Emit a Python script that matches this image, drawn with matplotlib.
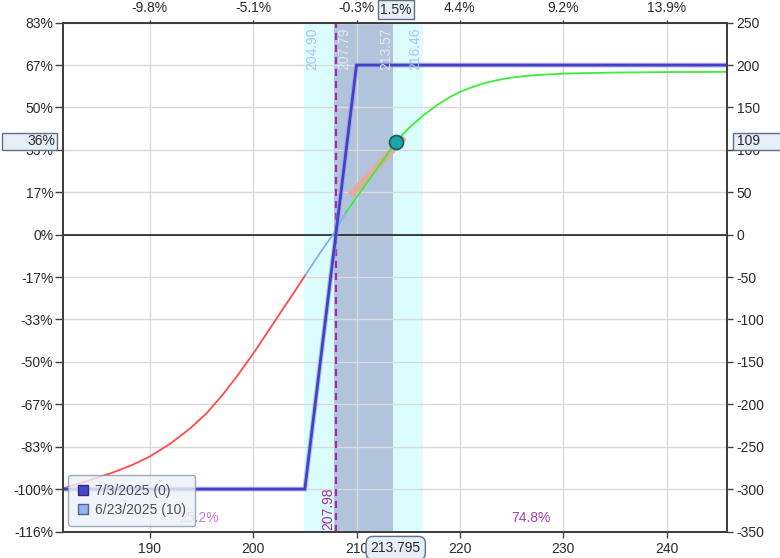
import matplotlib
matplotlib.use('Agg')
import matplotlib.pyplot as plt
import matplotlib.transforms as mtransforms
from matplotlib.patches import Rectangle
from matplotlib.lines import Line2D

plt.rcParams['font.family'] = ['Liberation Sans', 'DejaVu Sans']
plt.rcParams['font.size'] = 10

# ── data ─────────────────────────────────────────────────────────────────────
X_MIN, X_MAX = 181.6, 245.85
Y_MIN, Y_MAX = -350, 250

EXPIRY_X = [181.6, 205.0, 210.0, 245.85]          # 7/3/2025 (0)
EXPIRY_Y = [-300, -300, 200, 200]

# 6/23/2025 (10) curve, split by colour
T0_RED_X = [181.6, 182.14, 184.24, 186.49, 188.3, 189.97, 191.97, 193.9, 195.5,
            197.13, 198.4, 200.03, 201.32, 202.6, 203.9, 205.06]
T0_RED_Y = [-299, -297.2, -289.3, -280.2, -271.5, -261.8, -246.5, -228.5, -210.6,
            -187.5, -167.5, -139.9, -116.3, -92.7, -69.1, -47.5]
T0_BLUE_X = [205.06, 206.5, 207.8, 209.02]
T0_BLUE_Y = [-47.5, -21, 1.6, 27]
T0_GREEN_X = [209.02, 210, 211, 212, 213, 213.76, 214.5, 215.21, 216.5, 217.8,
              219.0, 220.05, 221.2, 222.3, 223.6, 224.88, 226.2, 227.47, 230.04,
              232.6, 235.0, 240.0, 245.85]
T0_GREEN_Y = [27, 44, 61, 78, 95, 108.5, 118.5, 127.4, 141, 153,
              162, 168.6, 174, 178.5, 182.2, 185.1, 187, 188.3, 189.9,
              190.7, 191.2, 191.8, 192]

HILITE_X = [209.41, 214.63]
HILITE_Y = [46.6, 114.9]

BAND_OUTER = (204.90, 216.46)
BAND_INNER = (207.79, 213.57)
BREAKEVEN = 207.98
SPOT, SPOT_PNL = 213.795, 109
SPOT_PCT, SPOT_PNL_PCT = "1.5%", "36%"
PROB_LEFT, PROB_RIGHT = "25.2%", "74.8%"

X_TICKS = [190, 200, 210, 220, 230, 240]
TOP_LABELS = ['-9.8%', '-5.1%', '-0.3%', '4.4%', '9.2%', '13.9%']
Y_TICKS = list(range(-350, 251, 50))
LEFT_LABELS = ['-116%', '-100%', '-83%', '-67%', '-50%', '-33%', '-17%',
               '0%', '17%', '33%', '50%', '67%', '83%']

LEGEND_LABELS = ['7/3/2025 (0)', '6/23/2025 (10)']

# ── figure ───────────────────────────────────────────────────────────────────
W, H = 780, 558
fig = plt.figure(figsize=(W / 100, H / 100), dpi=100)
ax = fig.add_axes([63 / W, 1 - 531.5 / H, 664 / W, 508.8 / H])
ax.set_xlim(X_MIN, X_MAX)
ax.set_ylim(Y_MIN, Y_MAX)

TXT = '#2a2a2a'
SPINE = '#404040'
BOXFC, BOXEC = '#e6eef8', '#607080'
FS = 10

# bands
ax.axvspan(*BAND_OUTER, color='#dcfdfd', zorder=0.5, lw=0)
ax.axvspan(*BAND_INNER, color='#b2c3dc', zorder=0.6, lw=0)

ax.set_axisbelow('line')
ax.grid(True, color='#dadada', lw=1.0)
ax.axhline(0, color='#111111', lw=1.1, zorder=1.8)

# breakeven
ax.axvline(BREAKEVEN, color='#a030a0', lw=1.6, ls=(0, (3.2, 2.2)), zorder=2.2)

# T+0 curve
ax.plot(HILITE_X, HILITE_Y, color='#e9a996', lw=4.8, solid_capstyle='butt',
        alpha=0.9, zorder=2.0)
ax.plot(T0_RED_X, T0_RED_Y, color='#ff4a4a', lw=1.3, zorder=2.1)
ax.plot(T0_BLUE_X, T0_BLUE_Y, color='#86acf2', lw=1.3, zorder=2.1)
ax.plot(T0_GREEN_X, T0_GREEN_Y, color='#3cee3c', lw=1.3, zorder=2.1)

# expiry line
ax.plot(EXPIRY_X, EXPIRY_Y, color='#9a9ae6', lw=3.6, alpha=0.6, zorder=2.3,
        solid_joinstyle='miter')
ax.plot(EXPIRY_X, EXPIRY_Y, color='#4242c8', lw=2.0, zorder=2.4,
        solid_joinstyle='miter')

ax.plot([SPOT], [SPOT_PNL], 'o', ms=10, mfc='#1fa6a6', mec='#1d5c62',
        mew=1.3, zorder=3)

# band edge labels
def band_label(x, txt, ha, dx, color):
    ax.annotate(txt, xy=(x, 1), xycoords=('data', 'axes fraction'),
                xytext=(dx, -3.5), textcoords='offset points', rotation=90,
                ha=ha, va='top', color=color, fontsize=FS, zorder=2.5)

band_label(BAND_OUTER[0], f"{BAND_OUTER[0]:.2f}", 'left', 1.0, '#b2c6e2')
band_label(BAND_INNER[0], f"{BAND_INNER[0]:.2f}", 'left', 2.8, '#dfe7f3')
band_label(BAND_INNER[1], f"{BAND_INNER[1]:.2f}", 'right', 0.0, '#dfe7f3')
band_label(BAND_OUTER[1], f"{BAND_OUTER[1]:.2f}", 'right', -1.0, '#b2c6e2')

ax.annotate(f"{BREAKEVEN:.2f}", xy=(BREAKEVEN, 0), xycoords=('data', 'axes fraction'),
            xytext=(-0.5, 1), textcoords='offset points', rotation=90,
            ha='right', va='bottom', color='#a030a0', fontsize=FS, zorder=2.5)

ax.text(194.8, -333.5, PROB_LEFT, ha='center', va='center', color='#c67ad2',
        fontsize=FS, zorder=2.5)
ax.text(226.9, -333.5, PROB_RIGHT, ha='center', va='center', color='#a540b5',
        fontsize=FS, zorder=2.5)

# axes, ticks
ax.set_xticks(X_TICKS)
ax.set_yticks(Y_TICKS)
ax.set_yticklabels(LEFT_LABELS)
ax.tick_params(axis='x', direction='out', length=4, width=1, pad=3.5,
               colors=SPINE, labelcolor=TXT, labelsize=FS)
ax.tick_params(axis='y', direction='out', length=5.5, width=1, pad=1.5,
               colors=SPINE, labelcolor=TXT, labelsize=FS)
for s in ax.spines.values():
    s.set_color(SPINE)
    s.set_linewidth(1.2)

ax_r = ax.twinx()
ax_r.set_ylim(Y_MIN, Y_MAX)
ax_r.set_yticks(Y_TICKS)
ax_r.set_yticklabels([str(v) for v in Y_TICKS])
ax_r.tick_params(axis='y', direction='out', length=4.5, width=1, pad=2.5,
                 colors=SPINE, labelcolor=TXT, labelsize=FS)

ax_t = ax.twiny()
ax_t.set_xlim(X_MIN, X_MAX)
ax_t.set_xticks(X_TICKS)
ax_t.set_xticklabels(TOP_LABELS)
ax_t.tick_params(axis='x', direction='out', length=2.5, width=1, pad=3,
                 colors=SPINE, labelcolor=TXT, labelsize=FS)
for a in (ax_r, ax_t):
    for s in a.spines.values():
        s.set_color(SPINE)
        s.set_linewidth(1.2)

# legend
handles = [
    Line2D([], [], ls='', marker='s', ms=7, mfc='#4848c8', mec='#2c2c78', mew=1),
    Line2D([], [], ls='', marker='s', ms=7, mfc='#92b4f0', mec='#4e6688', mew=1),
]
leg = ax_t.legend(handles, LEGEND_LABELS, loc='lower left',
                  bbox_to_anchor=(0.008, 0.011), borderaxespad=0,
                  fancybox=True, framealpha=0.82, facecolor='#edf2f9',
                  edgecolor='#8a9aaa', fontsize=FS, handlelength=0.8,
                  handletextpad=0.5, borderpad=0.65, labelspacing=0.38)
leg.get_frame().set_linewidth(1.0)
for t in leg.get_texts():
    t.set_color('#505050')

# value boxes on the axes
blend_l = mtransforms.blended_transform_factory(fig.transFigure, ax.transData)
fig.add_artist(Rectangle((1.7 / W, 99.5), 55 / W, 20.5, transform=blend_l,
                         fc=BOXFC, ec=BOXEC, lw=1, zorder=5))
fig.text(55 / W, 110.5, SPOT_PNL_PCT, transform=blend_l, ha='right',
         va='center', color=TXT, fontsize=FS, zorder=6)
fig.add_artist(Rectangle((732.7 / W, 99.5), 60 / W, 20.5, transform=blend_l,
                         fc=BOXFC, ec=BOXEC, lw=1, zorder=5, clip_on=False))
fig.text(736.5 / W, 110.5, str(SPOT_PNL), transform=blend_l, ha='left',
         va='center', color=TXT, fontsize=FS, zorder=6)

blend_x = mtransforms.blended_transform_factory(ax.transData, fig.transFigure)
fig.text(SPOT, 1 - 9.5 / H, SPOT_PCT, transform=blend_x, ha='center',
         va='center', color=TXT, fontsize=FS, zorder=6,
         bbox=dict(boxstyle='square,pad=0.15', fc=BOXFC, ec=BOXEC, lw=1))
fig.text(SPOT, 1 - 548 / H, f"{SPOT:.3f}", transform=blend_x, ha='center',
         va='center', color=TXT, fontsize=FS, zorder=6,
         bbox=dict(boxstyle='round,pad=0.33,rounding_size=0.5', fc=BOXFC,
                   ec=BOXEC, lw=1))

fig.savefig('out.png', dpi=100, facecolor='white')
